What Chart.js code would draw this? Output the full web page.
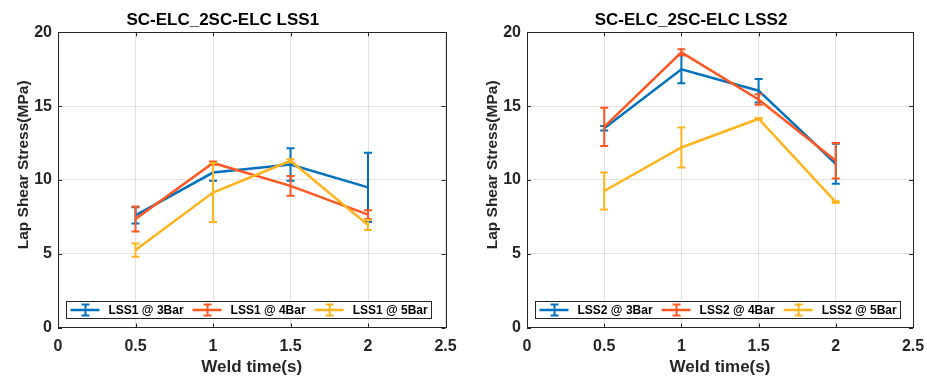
<!DOCTYPE html>
<html>
<head>
<meta charset="utf-8">
<script src="https://cdn.jsdelivr.net/npm/chart.js@4/dist/chart.umd.min.js"></script>
<style>
  body { margin: 0; background: #fff; width: 927px; height: 381px; overflow: hidden; position: relative; }
  .panel { position: absolute; top: 0; }
</style>
</head>
<body>
<div class="panel" style="left:0"><canvas id="lss1" width="503" height="381"></canvas></div>
<div class="panel" style="left:469px"><canvas id="lss2" width="502" height="381"></canvas></div>
<script>
// weld time (s) on the x axis
const weldTime = [0.5, 1, 1.5, 2];
const xTicks = [0, 0.5, 1, 1.5, 2, 2.5];
const yTicks = [0, 5, 10, 15, 20];

// LSS1 means and error half-widths (MPa)
const lss1Bar3 = [7.6, 10.5, 11.05, 9.5];
const lss1Bar3Err = [0.55, 0.55, 1.1, 2.35];
const lss1Bar4 = [7.35, 11.15, 9.6, 7.65];
const lss1Bar4Err = [0.85, 0.1, 0.67, 0.3];
const lss1Bar5 = [5.25, 9.15, 11.3, 6.95];
const lss1Bar5Err = [0.45, 2.0, 0.1, 0.35];

// LSS2
const lss2Bar3 = [13.5, 17.5, 16.05, 11.1];
const lss2Bar3Err = [0.15, 0.95, 0.8, 1.35];
const lss2Bar4 = [13.6, 18.65, 15.45, 11.3];
const lss2Bar4Err = [1.3, 0.2, 0.35, 1.2];
const lss2Bar5 = [9.25, 12.2, 14.15, 8.5];
const lss2Bar5Err = [1.25, 1.35, 0.05, 0.05];

const colors = ["#0072BD", "#FF5722", "#FFB31C"];
const axisColor = "#262626";
const FONT = "'Liberation Sans', Arial, sans-serif";

// error bars, drawn right after each line so the stacking matches matlab
const errorBars = {
  id: "errorBars",
  afterDatasetDraw(chart, args) {
    const ds = chart.data.datasets[args.index];
    if (!ds.errors) return;
    const xs = chart.scales.x, ys = chart.scales.y;
    const ctx = chart.ctx;
    ctx.save();
    ctx.strokeStyle = ds.borderColor;
    ctx.lineWidth = 2;
    ds.data.forEach((p, i) => {
      const e = ds.errors[i];
      const px = xs.getPixelForValue(p.x);
      const top = ys.getPixelForValue(p.y + e);
      const bot = ys.getPixelForValue(p.y - e);
      ctx.beginPath();
      ctx.moveTo(px, top); ctx.lineTo(px, bot);
      ctx.moveTo(px - 4, top); ctx.lineTo(px + 4, top);
      ctx.moveTo(px - 4, bot); ctx.lineTo(px + 4, bot);
      ctx.stroke();
    });
    ctx.restore();
  }
};

// box around the axes, inward ticks, and the matlab-style legend inside
const matlabBox = {
  id: "matlabBox",
  afterDraw(chart) {
    const ctx = chart.ctx;
    const a = chart.chartArea;
    const xs = chart.scales.x, ys = chart.scales.y;
    ctx.save();
    ctx.strokeStyle = axisColor;
    ctx.lineWidth = 1;
    ctx.strokeRect(Math.round(a.left) + 0.5, Math.round(a.top) + 0.5,
      Math.round(a.right - a.left), Math.round(a.bottom - a.top));
    ctx.beginPath();
    xTicks.forEach(v => {
      const px = Math.round(xs.getPixelForValue(v)) + 0.5;
      ctx.moveTo(px, a.bottom); ctx.lineTo(px, a.bottom - 4);
      ctx.moveTo(px, a.top); ctx.lineTo(px, a.top + 4);
    });
    yTicks.forEach(v => {
      const py = Math.round(ys.getPixelForValue(v)) + 0.5;
      ctx.moveTo(a.left, py); ctx.lineTo(a.left + 4, py);
      ctx.moveTo(a.right, py); ctx.lineTo(a.right - 4, py);
    });
    ctx.stroke();

    // legend
    ctx.font = "bold 12px " + FONT;
    const sets = chart.data.datasets;
    const widths = sets.map(d => ctx.measureText(d.label).width);
    let total = 4;
    widths.forEach(w => { total += 38 + w + 9; });
    total -= 5;
    const boxW = Math.round(total);
    const boxL = Math.round((a.left + a.right) / 2 - 3 - boxW / 2) + 0.5;
    const boxT = Math.round(a.bottom - 27) + 0.5;
    const boxH = 17;
    ctx.fillStyle = "#fff";
    ctx.fillRect(boxL, boxT, boxW, boxH);
    ctx.strokeStyle = axisColor;
    ctx.strokeRect(boxL, boxT, boxW, boxH);
    let x = boxL + 4;
    const cy = boxT + boxH / 2;
    sets.forEach((d, i) => {
      ctx.strokeStyle = d.borderColor;
      ctx.lineWidth = 2.5;
      ctx.beginPath();
      ctx.moveTo(x, cy); ctx.lineTo(x + 29, cy);
      ctx.stroke();
      ctx.lineWidth = 2;
      const ix = x + 15;
      ctx.beginPath();
      ctx.moveTo(ix, cy - 5.5); ctx.lineTo(ix, cy + 5.5);
      ctx.moveTo(ix - 4, cy - 5.5); ctx.lineTo(ix + 4, cy - 5.5);
      ctx.moveTo(ix - 4, cy + 5.5); ctx.lineTo(ix + 4, cy + 5.5);
      ctx.stroke();
      ctx.fillStyle = "#000";
      ctx.textBaseline = "middle";
      ctx.textAlign = "left";
      ctx.fillText(d.label, x + 38, cy + 0.5);
      x += 38 + widths[i] + 9;
    });
    ctx.restore();
  }
};

function series(label, vals, errs, idx) {
  return {
    label: label,
    data: weldTime.map((t, i) => ({ x: t, y: vals[i] })),
    errors: errs,
    borderColor: colors[idx],
    backgroundColor: colors[idx],
    borderWidth: 2.5,
    pointRadius: 0,
    tension: 0,
    order: 3 - idx
  };
}

function makeChart(id, title, datasets, padRight) {
  new Chart(document.getElementById(id), {
    type: "line",
    data: { datasets: datasets },
    plugins: [errorBars, matlabBox],
    options: {
      responsive: false,
      animation: false,
      layout: { padding: { left: 0, right: padRight, top: 0, bottom: 0 } },
      plugins: {
        legend: { display: false },
        tooltip: { enabled: false },
        title: {
          display: true,
          text: title,
          color: "#000",
          font: { family: FONT, size: 17, weight: "bold" },
          padding: { top: 10, bottom: 2 }
        }
      },
      scales: {
        x: {
          type: "linear",
          min: 0,
          max: 2.5,
          afterBuildTicks: s => { s.ticks = xTicks.map(v => ({ value: v })); },
          afterFit: s => { s.height = 53.5; },
          grid: { color: "rgba(38,38,38,0.13)", drawTicks: false },
          border: { display: false },
          ticks: {
            padding: 9,
            color: axisColor,
            font: { family: FONT, size: 16, weight: "bold" },
            callback: v => String(v)
          },
          title: {
            display: true,
            text: "Weld time(s)",
            color: axisColor,
            font: { family: FONT, size: 17, weight: "bold" },
            padding: { top: 0, bottom: 3 }
          }
        },
        y: {
          type: "linear",
          min: 0,
          max: 20,
          afterBuildTicks: s => { s.ticks = yTicks.map(v => ({ value: v })); },
          afterFit: s => { s.width = 58; },
          grid: { color: "rgba(38,38,38,0.13)", drawTicks: false },
          border: { display: false },
          ticks: {
            padding: 6,
            color: axisColor,
            font: { family: FONT, size: 16, weight: "bold" },
            callback: v => String(v)
          },
          title: {
            display: true,
            // leading spaces push the label up a little, as in the original figure
            text: "       Lap Shear Stress(MPa)",
            color: axisColor,
            font: { family: FONT, size: 15.5, weight: "bold" },
            padding: { top: 14, bottom: 0 }
          }
        }
      }
    }
  });
}

makeChart("lss1", "SC-ELC_2SC-ELC LSS1", [
  series("LSS1 @ 3Bar", lss1Bar3, lss1Bar3Err, 0),
  series("LSS1 @ 4Bar", lss1Bar4, lss1Bar4Err, 1),
  series("LSS1 @ 5Bar", lss1Bar5, lss1Bar5Err, 2)
], 57.5);

makeChart("lss2", "SC-ELC_2SC-ELC LSS2", [
  series("LSS2 @ 3Bar", lss2Bar3, lss2Bar3Err, 0),
  series("LSS2 @ 4Bar", lss2Bar4, lss2Bar4Err, 1),
  series("LSS2 @ 5Bar", lss2Bar5, lss2Bar5Err, 2)
], 58);
</script>
</body>
</html>
